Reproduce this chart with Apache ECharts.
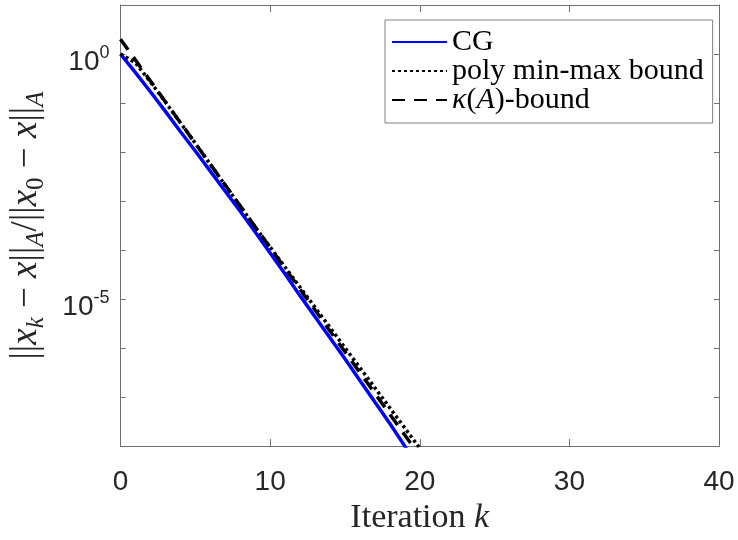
<!DOCTYPE html>
<html>
<head>
<meta charset="utf-8">
<script src="https://cdn.jsdelivr.net/npm/echarts@6/dist/echarts.min.js"></script>
<style>
  html, body { margin: 0; padding: 0; background: #ffffff; }
  #chart { width: 738px; height: 540px; }
</style>
</head>
<body>
<div id="chart"></div>
<script>
// ---- data ----
const iterations = [0, 1, 2, 3, 4, 5, 6, 7, 8, 9, 10, 11, 12, 13, 14, 15, 16, 17, 18, 19, 20];
const cgResidual = [1, 0.417, 0.170, 0.0676, 0.0263, 0.01047, 4.07e-3, 1.585e-3, 6.17e-4, 2.34e-4, 8.71e-5,
  3.24e-5, 1.175e-5, 4.37e-6, 1.62e-6, 6.03e-7, 2.19e-7, 7.94e-8, 2.88e-8, 1.0e-8, 3.4e-9];
const polyBound = [1, 0.66, 0.27, 0.105, 0.0398, 0.0151, 5.6e-3, 2.1e-3, 7.9e-4, 2.95e-4, 1.15e-4,
  4.47e-5, 1.74e-5, 6.76e-6, 2.63e-6, 1.02e-6, 3.98e-7, 1.55e-7, 6.03e-8, 2.34e-8, 9.1e-9];
const kappaBound = [2.0, 0.752, 0.2825, 0.1062, 0.0399, 0.0150, 5.64e-3, 2.12e-3, 7.96e-4, 2.99e-4, 1.125e-4,
  4.23e-5, 1.59e-5, 5.97e-6, 2.24e-6, 8.43e-7, 3.17e-7, 1.19e-7, 4.48e-8, 1.68e-8, 6.32e-9];
const seriesNames = ['CG', 'poly min-max bound', '{i|κ}({i|A})-bound'];
const xTicks = [0, 10, 20, 30, 40];
const yLabelExponents = [0, -5];

const pair = (ys) => iterations.map((k, i) => [k, ys[i]]);

const axisColor = '#707070';
const textColor = '#262626';
const sans = 'Liberation Sans, Arial, Helvetica, sans-serif';
const serif = 'Liberation Serif, Times New Roman, serif';

const chart = echarts.init(document.getElementById('chart'), null, { renderer: 'canvas' });

const yCommon = {
  type: 'log', logBase: 10, min: 1e-8, max: 10, splitNumber: 9,
  axisLine: { show: true, onZero: false, lineStyle: { color: axisColor, width: 1 } },
  axisTick: { show: true, inside: true, length: 5, lineStyle: { color: axisColor, width: 1 } },
  splitLine: { show: false },
  minorTick: { show: false }
};
const xCommon = {
  type: 'value', min: xTicks[0], max: xTicks[xTicks.length - 1], interval: 10,
  axisLine: { show: true, onZero: false, lineStyle: { color: axisColor, width: 1 } },
  axisTick: { show: true, inside: true, length: 7, lineStyle: { color: axisColor, width: 1 } },
  splitLine: { show: false }
};

chart.setOption({
  animation: false,
  backgroundColor: '#ffffff',
  grid: { left: 120, right: 19, top: 5, bottom: 84, containLabel: false },
  xAxis: [
    Object.assign({}, xCommon, {
      position: 'bottom',
      name: 'Iteration {i|k}',
      nameLocation: 'middle',
      nameGap: 54,
      nameTextStyle: {
        fontFamily: serif, fontSize: 34, color: textColor,
        rich: { i: { fontFamily: serif, fontSize: 34, fontStyle: 'italic', color: textColor } }
      },
      axisLabel: {
        show: true, margin: 22, fontFamily: sans, fontSize: 28, color: textColor,
        formatter: (v) => String(v)
      }
    }),
    Object.assign({}, xCommon, { position: 'top', axisLabel: { show: false } })
  ],
  yAxis: [
    Object.assign({}, yCommon, {
      position: 'left',
      name: '{n|||}{i|x}{si|k}{n| − }{i|x}{n|||}{si|A}{n|/||}{i|x}{s|0}{n| − }{i|x}{n|||}{si|A}',
      nameLocation: 'middle',
      nameGap: 72,
      nameRotate: 90,
      nameTextStyle: {
        fontFamily: serif, fontSize: 37, color: textColor,
        rich: {
          n: { fontFamily: serif, fontSize: 37, lineHeight: 44, color: textColor },
          i: { fontFamily: serif, fontSize: 37, lineHeight: 44, fontStyle: 'italic', color: textColor },
          si: { fontFamily: serif, fontSize: 25, lineHeight: 25, fontStyle: 'italic', verticalAlign: 'bottom', color: textColor },
          s: { fontFamily: serif, fontSize: 25, lineHeight: 25, verticalAlign: 'bottom', color: textColor }
        }
      },
      axisLabel: {
        show: true, margin: 11, padding: [16, 0, 0, 0],
        fontFamily: sans, fontSize: 28, color: textColor,
        formatter: (v) => {
          const e = Math.round(Math.log10(v));
          return yLabelExponents.indexOf(e) >= 0 ? '{b|10}{e|' + e + '}' : '';
        },
        rich: {
          b: { fontFamily: sans, fontSize: 28, lineHeight: 36, color: textColor },
          e: { fontFamily: sans, fontSize: 18, lineHeight: 18, verticalAlign: 'top', color: textColor }
        }
      }
    }),
    Object.assign({}, yCommon, { position: 'right', axisLabel: { show: false } })
  ],
  legend: {
    show: true,
    orient: 'vertical',
    left: 385, top: 20,
    backgroundColor: '#ffffff',
    borderColor: '#808080', borderWidth: 1, borderRadius: 0,
    padding: [7, 9, 8, 6],
    itemWidth: 55, itemHeight: 14, itemGap: -1,
    itemStyle: { opacity: 0, color: 'rgba(0,0,0,0)', borderWidth: 0 },
    textStyle: {
      fontFamily: serif, fontSize: 30, lineHeight: 25, color: '#000000',
      rich: { i: { fontFamily: serif, fontSize: 30, fontStyle: 'italic', color: '#000000' } }
    },
    data: seriesNames
  },
  series: [
    {
      name: seriesNames[0], type: 'line', data: pair(cgResidual), xAxisIndex: 0, yAxisIndex: 0,
      showSymbol: false, symbol: 'none', clip: true,
      lineStyle: { color: '#0000ff', width: 3.5, type: 'solid' },
      itemStyle: { color: '#0000ff' }, z: 2
    },
    {
      name: seriesNames[1], type: 'line', data: pair(polyBound), xAxisIndex: 0, yAxisIndex: 0,
      showSymbol: false, symbol: 'none', clip: true,
      lineStyle: { color: '#000000', width: 3.5, type: [3, 3] },
      itemStyle: { color: '#000000' }, z: 3
    },
    {
      name: seriesNames[2], type: 'line', data: pair(kappaBound), xAxisIndex: 0, yAxisIndex: 0,
      showSymbol: false, symbol: 'none', clip: true,
      lineStyle: { color: '#000000', width: 3.5, type: [13, 9] },
      itemStyle: { color: '#000000' }, z: 4
    }
  ]
});
</script>
</body>
</html>
